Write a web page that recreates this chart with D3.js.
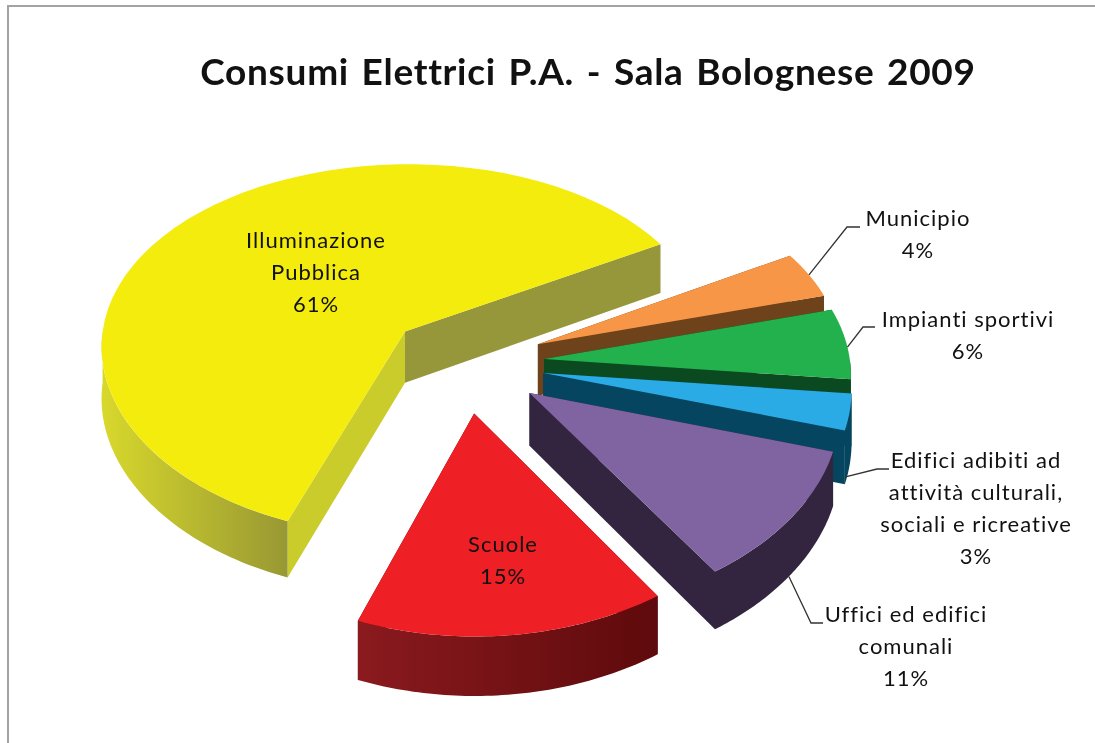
<!DOCTYPE html>
<html>
<head>
<meta charset="utf-8">
<script src="https://cdnjs.cloudflare.com/ajax/libs/d3/7.8.5/d3.min.js"></script>
<style>
  body { margin: 0; background: #fff; }
  svg { filter: blur(0.5px); }
  text { font-family: Lato, "Open Sans", sans-serif; fill: #111; }
</style>
</head>
<body>
<div id="chart"></div>
<script>
const WIDTH = 1095, HEIGHT = 743;

// data, clockwise from the first slice
const categories = ["Illuminazione Pubblica", "Municipio", "Impianti sportivi",
    "Edifici adibiti ad attività culturali, sociali e ricreative", "Uffici ed edifici comunali", "Scuole"];
const values = [61, 4, 6, 3, 11, 15];

const topColors = ["#f4ec0d", "#f79646", "#22b14c", "#2aabe6", "#8064a2", "#ee1f25"];
const startFaceColors = ["#cacc2c", "#6e421a", "#0b4a20", "#06455f", "#33243f", "#5e0a0c"];
const endFaceColors = ["#96963a", "#6e421a", "#0b4a20", "#06455f", "#33243f", "#5e0a0c"];
const wallLeftColors = ["#d8d82c", "#6e421a", "#0b4a20", "#06455f", "#33243f", "#8a1a1e"];
const wallRightColors = ["#989834", "#6e421a", "#0b4a20", "#06455f", "#33243f", "#5e0a0c"];

// label text and where it sits
const labelLines = [
    ["Illuminazione", "Pubblica", "61%"],
    ["Municipio", "4%"],
    ["Impianti sportivi", "6%"],
    ["Edifici adibiti ad", "attività culturali,", "sociali e ricreative", "3%"],
    ["Uffici ed edifici", "comunali", "11%"],
    ["Scuole", "15%"]
];
const labelX = [316, 918, 968, 976, 906, 503];
const labelY = [248, 226, 327, 468, 622, 552];
// leader: elbow, end of the line, where along the slice and how far down the wall it starts
const leaderElbow = [null, [847, 227], [863, 327], [877, 469], [811, 623], null];
const leaderEnd = [null, [860, 227], [875, 327], [889, 469], [823, 623], null];
const leaderFrac = [0.5, 0.5, 0.55, 0.95, 0.52, 0.5];
const leaderDepth = [0, 0, 0, 0.9, 1, 0];

const LINE_H = 32;

// projection settings, the x scale changes less with depth than the y scale
const CX = 465, CY = 363, RX = 306, RY = 190, PERSP_X = 0.07, PERSP_Y = 0.1, WALL = 52, EXPLODE = 0.26;
const START = 200.5 * Math.PI / 180;

let svg = d3.select("#chart")
    .append("svg")
    .attr("width", WIDTH)
    .attr("height", HEIGHT);

let defs = svg.append("defs");

// chart frame, cut off by the screenshot on the right and at the bottom
svg.append("path")
    .attr("d", `M8,${HEIGHT}V6H${WIDTH}`)
    .attr("fill", "none")
    .attr("stroke", "#a3a3a3")
    .attr("stroke-width", 2);

svg.append("text")
    .attr("x", 588)
    .attr("y", 85)
    .attr("text-anchor", "middle")
    .style("font-size", "37px")
    .style("font-weight", 700)
    .style("word-spacing", "3px")
    .style("letter-spacing", "0.7px")
    .text("Consumi Elettrici P.A. - Sala Bolognese 2009");

let pie = d3.pie()
    .sort(null)
    .startAngle(START)
    .endAngle(START + 2 * Math.PI);

let arcs = pie(values).map((d, i) => ({...d, i, mid: (d.startAngle + d.endAngle) / 2}));

// ground plane point of slice d at angle a and radius r, to screen
let project = (d, a, r, depth) => {
    let u = EXPLODE * Math.sin(d.mid) + r * Math.sin(a);
    let v = -EXPLODE * Math.cos(d.mid) - r * Math.cos(a);
    let sx = 1 / (1 - PERSP_X * v);
    let sy = 1 / (1 - PERSP_Y * v);
    return [CX + RX * u * sx, CY + (RY * v + WALL * depth) * sy];
};

let line = d3.line();

let arcPoints = (d, a0, a1, depth) => d3.range(0, 61)
    .map(k => project(d, a0 + (a1 - a0) * k / 60, 1, depth));

// outer wall only shows on the part of the arc facing the viewer
let facing = d => {
    let lo = Math.PI / 2, hi = 1.5 * Math.PI;
    let ranges = [];
    [0, 2 * Math.PI].forEach(off => {
        let a0 = Math.max(d.startAngle, lo + off), a1 = Math.min(d.endAngle, hi + off);
        if (a1 > a0) ranges.push([a0, a1]);
    });
    return ranges;
};

// back to front
arcs.forEach(d => {
    let i = d.i;
    let g = svg.append("g");

    let side = (a, color) => g.append("path")
        .attr("d", line([project(d, a, 0, 0), project(d, a, 1, 0), project(d, a, 1, 1), project(d, a, 0, 1)]) + "Z")
        .attr("fill", color);

    side(d.startAngle, startFaceColors[i]);
    side(d.endAngle, endFaceColors[i]);

    facing(d).forEach(([a0, a1], k) => {
        let top = arcPoints(d, a0, a1, 0), bottom = arcPoints(d, a1, a0, 1);
        let id = `wall-${i}-${k}`;
        let xs = d3.extent(top, p => p[0]);
        let grad = defs.append("linearGradient")
            .attr("id", id)
            .attr("gradientUnits", "userSpaceOnUse")
            .attr("x1", xs[0]).attr("x2", xs[1])
            .attr("y1", 0).attr("y2", 0);
        grad.append("stop").attr("offset", 0).attr("stop-color", wallLeftColors[i]);
        grad.append("stop").attr("offset", 1).attr("stop-color", wallRightColors[i]);
        g.append("path")
            .attr("d", line(top.concat(bottom)) + "Z")
            .attr("fill", `url(#${id})`);
    });

    g.append("path")
        .attr("d", line([project(d, d.startAngle, 0, 0)].concat(arcPoints(d, d.startAngle, d.endAngle, 0))) + "Z")
        .attr("fill", topColors[i]);
});

// leader lines
arcs.forEach(d => {
    if (!leaderElbow[d.i]) return;
    let a = d.startAngle + (d.endAngle - d.startAngle) * leaderFrac[d.i];
    let from = project(d, a, 1, leaderDepth[d.i]);
    svg.append("path")
        .attr("d", line([from, leaderElbow[d.i], leaderEnd[d.i]]))
        .attr("fill", "none")
        .attr("stroke", "#333")
        .attr("stroke-width", 1.3);
});

// labels
categories.forEach((c, i) => {
    let t = svg.append("text")
        .attr("data-category", c)
        .attr("text-anchor", "middle")
        .style("font-size", "22px")
        .style("letter-spacing", "1px");
    labelLines[i].forEach((s, k) => {
        t.append("tspan")
            .attr("x", labelX[i])
            .attr("y", labelY[i] + k * LINE_H)
            .text(s);
    });
});
</script>
</body>
</html>
